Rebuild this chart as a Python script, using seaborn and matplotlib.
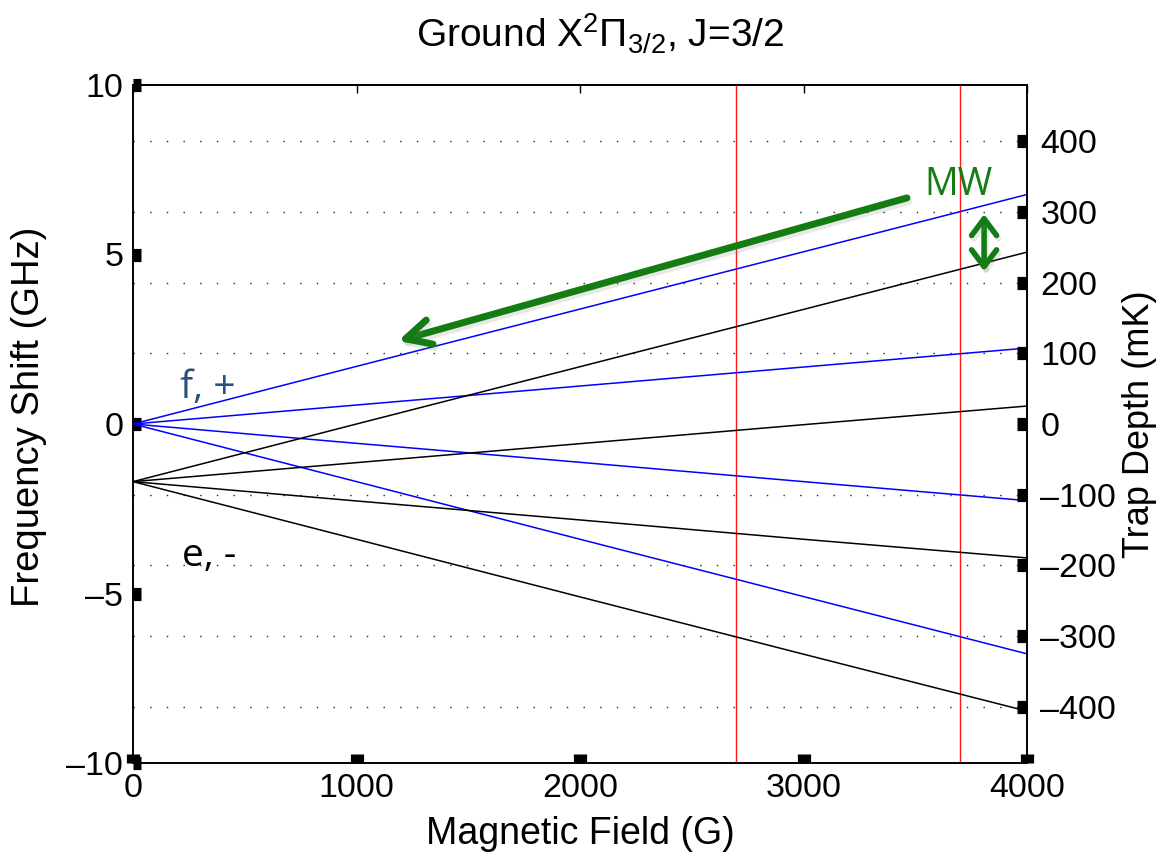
import matplotlib
matplotlib.use("Agg")
import numpy as np
import pandas as pd
import matplotlib.pyplot as plt
import matplotlib.patheffects as pe
from matplotlib.ticker import FixedLocator, FuncFormatter
import seaborn as sns

# Magnetic field samples (G)
field_G = [0, 1000, 2000, 3000, 4000]

# f-parity (+) Zeeman levels, frequency shift in GHz
f_level_1 = [0.0, 1.70, 3.39, 5.08, 6.77]
f_level_2 = [0.0, 0.56, 1.12, 1.68, 2.24]
f_level_3 = [0.0, -0.57, -1.13, -1.70, -2.26]
f_level_4 = [0.0, -1.70, -3.40, -5.09, -6.78]

# e-parity (-) Zeeman levels, frequency shift in GHz
e_level_1 = [-1.70, 0.00, 1.69, 3.38, 5.07]
e_level_2 = [-1.70, -1.14, -0.58, -0.02, 0.53]
e_level_3 = [-1.70, -2.27, -2.83, -3.40, -3.95]
e_level_4 = [-1.70, -3.40, -5.10, -6.79, -8.47]

# Fields marked with vertical lines (G)
marked_fields = [2700, 3700]

# Tick values
field_ticks = [0, 1000, 2000, 3000, 4000]
shift_ticks = [-10, -5, 0, 5, 10]
depth_ticks_mK = [-400, -300, -200, -100, 0, 100, 200, 300, 400]

GHZ_TO_MK = 47.99  # h * 1 GHz / k_B in mK

levels = {
    ("f", "f1"): f_level_1, ("f", "f2"): f_level_2,
    ("f", "f3"): f_level_3, ("f", "f4"): f_level_4,
    ("e", "e1"): e_level_1, ("e", "e2"): e_level_2,
    ("e", "e3"): e_level_3, ("e", "e4"): e_level_4,
}
rows = []
for (parity, state), vals in levels.items():
    for b, v in zip(field_G, vals):
        rows.append({"field": b, "shift": v, "parity": parity, "state": state})
df = pd.DataFrame(rows)

sns.set_theme(style="white")
plt.rcParams["font.family"] = ["Liberation Sans", "DejaVu Sans"]
plt.rcParams["mathtext.fontset"] = "custom"
plt.rcParams["mathtext.rm"] = "Liberation Sans"
plt.rcParams["mathtext.it"] = "Liberation Sans:italic"
plt.rcParams["mathtext.bf"] = "Liberation Sans:bold"
for key in ["text.color", "axes.labelcolor", "xtick.color", "ytick.color",
            "axes.edgecolor"]:
    plt.rcParams[key] = "black"


def dash_minus(v, pos=None):
    s = f"{v:g}"
    return s.replace("-", "\u2013")


TICK_FS = 24.5

W, H = 1161, 858
fig = plt.figure(figsize=(W / 100, H / 100), dpi=100)
fig.patch.set_facecolor("white")
L, R, T, B = 133, 1027, 85, 763
ax = fig.add_axes([L / W, 1 - B / H, (R - L) / W, (B - T) / H])
ax.set_facecolor("white")

# dotted guide lines at the trap-depth ticks
ax.yaxis.set_minor_locator(FixedLocator([m / GHZ_TO_MK for m in depth_ticks_mK]))
ax.grid(which="minor", axis="y", color="0.15", linestyle=(0, (1, 11)), linewidth=1.0)
ax.set_axisbelow(True)

for xb in marked_fields:
    ax.axvline(xb, color="#ff1a1a", lw=1.0, zorder=1)

sns.lineplot(data=df, x="field", y="shift", hue="parity", units="state",
             estimator=None, sort=False, palette={"f": "#0000ff", "e": "#000000"},
             linewidth=1.1, legend=False, ax=ax, zorder=2)

ax.set_xlim(0, 4000)
ax.set_ylim(-10, 10)
ax.set_xticks(field_ticks)
ax.set_yticks(shift_ticks)
ax.yaxis.set_major_formatter(FuncFormatter(dash_minus))
ax.tick_params(axis="y", which="major", direction="in", length=6, width=9.5,
               labelsize=TICK_FS, pad=7, left=True, right=False, color="black",
               labelcolor="black")
ax.tick_params(axis="y", which="minor", length=0)
ax.tick_params(axis="x", which="major", direction="in", length=6.5, width=9.5,
               labelsize=TICK_FS, pad=7, bottom=True, top=False, color="black",
               labelcolor="black")
for s in ax.spines.values():
    s.set_color("black")
    s.set_linewidth(1.2)

ax.set_xlabel("Magnetic Field (G)", fontsize=27, labelpad=9, color="black")
ax.set_ylabel("Frequency Shift (GHz)", fontsize=27.5, color="black")
ax.yaxis.set_label_coords(-0.096, 0.51)
ax.set_title(r"Ground X$^{2}\Pi_{3/2}$, J=3/2", fontsize=28, pad=27,
             color="black", x=0.5225)

# thin ticks along the top edge
top = ax.secondary_xaxis("top")
top.set_xticks(field_ticks)
top.set_xticklabels([])
top.tick_params(direction="in", length=6, width=1, color="black")
top.spines["top"].set_linewidth(1.2)
top.spines["top"].set_color("black")

# trap depth axis
ax2 = ax.twinx()
ax2.set_ylim(-10 * GHZ_TO_MK, 10 * GHZ_TO_MK)
ax2.set_yticks(depth_ticks_mK)
ax2.yaxis.set_major_formatter(FuncFormatter(dash_minus))
ax2.tick_params(axis="y", direction="in", length=7.5, width=9.5, labelsize=TICK_FS,
                pad=9.5, color="black", labelcolor="black")
ax2.grid(False)
for s in ax2.spines.values():
    s.set_color("black")
    s.set_linewidth(1.2)
ax2.set_ylabel("Trap Depth (mK)", fontsize=26, rotation=90, color="black")
ax2.yaxis.set_label_coords(1.106, 0.5)

# annotations
green = "#137d13"
shadow = [pe.SimpleLineShadow(offset=(1.5, -2.5), shadow_color="0.5", alpha=0.18),
          pe.Normal()]
ax.annotate("", xy=(1186, 2.45), xytext=(3463, 6.67),
            arrowprops=dict(arrowstyle="->,head_length=0.9,head_width=0.45",
                            color=green, lw=5, mutation_scale=20,
                            shrinkA=0, shrinkB=0, path_effects=shadow))
ax.annotate("", xy=(3808, 6.19), xytext=(3808, 4.51),
            arrowprops=dict(arrowstyle="<->,head_length=0.6,head_width=0.45",
                            color=green, lw=4, mutation_scale=20,
                            shrinkA=0, shrinkB=0, path_effects=shadow))
ax.text(3695, 7.05, "MW", color=green, fontsize=27, family="Open Sans",
        ha="center", va="center")
ax.text(212, 0.77, "f, +", color="#2a4f80", fontsize=28, family="Open Sans",
        ha="left", va="baseline")
ax.text(218, -4.19, "e, -", color="black", fontsize=28, family="Open Sans",
        ha="left", va="baseline")

fig.savefig("out.png", dpi=100, facecolor="white")
